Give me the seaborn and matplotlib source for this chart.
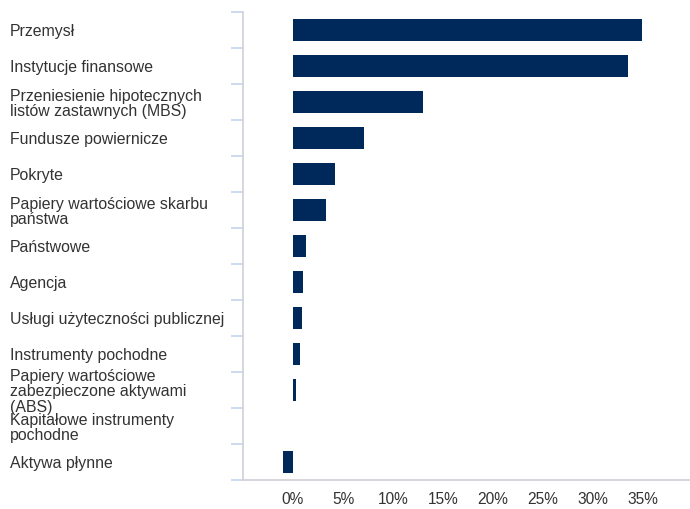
import matplotlib
matplotlib.use("Agg")
import matplotlib.pyplot as plt
import seaborn as sns
import pandas as pd
import numpy as np
from matplotlib.ticker import FixedLocator

categories = [
    "Przemysł",
    "Instytucje finansowe",
    "Przeniesienie hipotecznych\nlistów zastawnych (MBS)",
    "Fundusze powiernicze",
    "Pokryte",
    "Papiery wartościowe skarbu\npaństwa",
    "Państwowe",
    "Agencja",
    "Usługi użyteczności publicznej",
    "Instrumenty pochodne",
    "Papiery wartościowe\nzabezpieczone aktywami\n(ABS)",
    "Kapitałowe instrumenty\npochodne",
    "Aktywa płynne",
]
values = [34.9, 33.5, 13.0, 7.1, 4.2, 3.3, 1.3, 1.0, 0.9, 0.7, 0.3, 0.0, -1.0]
xticks = [0, 5, 10, 15, 20, 25, 30, 35]
xtick_labels = [f"{t}%" for t in xticks]

sns.set_theme(style="white")
plt.rcParams['font.family'] = ['Liberation Sans', 'DejaVu Sans']

df = pd.DataFrame({"cat": categories, "val": values})

fig = plt.figure(figsize=(6.9, 5.09), dpi=100)
ax = fig.add_axes([243/690, 1 - 480/509, 1 - 243/690, (480 - 12)/509])

sns.barplot(data=df, x="val", y="cat", orient="h", color="#00295B",
            width=0.6, ax=ax, saturation=1, linewidth=0)

ax.set_xlim(-5, 39.7)
ax.set_ylim(len(categories) - 0.5, -0.5)
ax.set_xlabel("")
ax.set_ylabel("")

for s in ["top", "right"]:
    ax.spines[s].set_visible(False)
ax.spines["left"].set_color("#d0d0d8")
ax.spines["bottom"].set_color("#d0d0d8")
ax.spines["left"].set_linewidth(1.2)
ax.spines["bottom"].set_linewidth(1.2)

ax.set_xticks(xticks)
ax.set_xticklabels(xtick_labels, fontsize=11.2, color="#333333")
ax.tick_params(axis="x", length=0, pad=9)

ax.set_yticks(range(len(categories)))
ax.set_yticklabels(categories, fontsize=11.4, color="#333333", ha="left",
                   linespacing=1.08)
ax.tick_params(axis="y", which="major", left=True, length=0, pad=233 * 72 / 100)
ax.yaxis.set_minor_locator(FixedLocator(np.arange(-0.5, len(categories), 1.0)))
ax.tick_params(axis="y", which="minor", left=True, length=9, color="#c5d3ee", width=1.2)

fig.savefig("out.png", dpi=100)
